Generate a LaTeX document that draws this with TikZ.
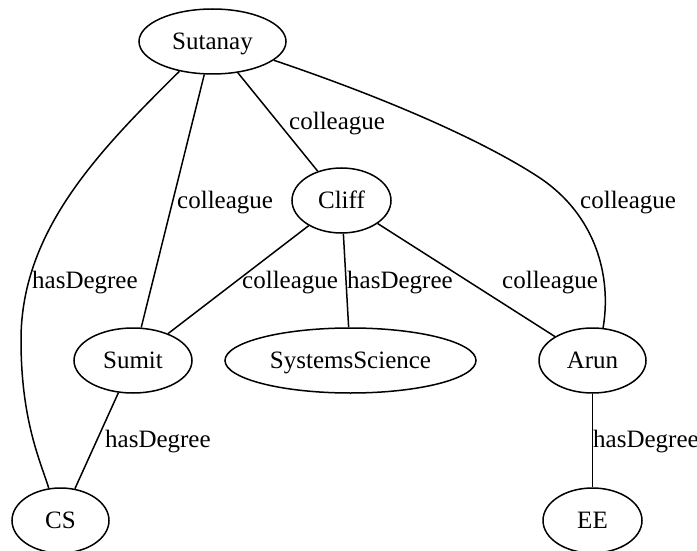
\documentclass[tikz,border=0pt]{standalone}
\usepackage{fontspec}
\setmainfont{Liberation Serif}
\usetikzlibrary{shapes.geometric}
\begin{document}
\begin{tikzpicture}[x=1pt,y=-1pt,
  every node/.style={font=\fontsize{25}{30}\selectfont},
  entity/.style={draw, ellipse, line width=1.5pt, inner sep=0pt,
    minimum height=65pt, text height=16.5pt, text depth=0pt},
  rel/.style={line width=1.5pt},
  lbl/.style={anchor=base west, inner sep=0pt}]
\useasboundingbox (0,0) rectangle (697,551);
\clip (0,0) rectangle (697,551);

% entities
\node[entity, minimum width=147pt] (sutanay) at (212.5,41.5) {Sutanay};
\node[entity, minimum width=99pt]  (cliff)   at (341.5,200.5) {Cliff};
\node[entity, minimum width=118pt] (sumit)   at (133,360.5) {Sumit};
\node[entity, minimum width=251pt] (syssci)  at (350.5,360.5) {SystemsScience};
\node[entity, minimum width=107pt] (arun)    at (592.5,360.5) {Arun};
\node[entity, minimum width=97pt]  (cs)      at (60.5,520.5) {CS};
\node[entity, minimum width=99pt]  (ee)      at (592.5,520.5) {EE};

% relations
\draw[rel] (sutanay) -- (cliff);
\draw[rel] (sutanay) -- (sumit);
\draw[rel] (sutanay.222) .. controls (100,150) and (21,230) .. (21,340)
                         .. controls (21,420) and (40,460) .. (cs.110);
\draw[rel] (sutanay.-17) .. controls (400,103) and (490,145) .. (540,178)
                         .. controls (595,215) and (612,275) .. (arun.72);
\draw[rel] (cliff) -- (sumit);
\draw[rel] (cliff) -- (syssci);
\draw[rel] (cliff) -- (arun);
\draw[rel] (sumit) -- (cs);
\draw[rel] (arun) -- (ee);

% relation labels
\node[lbl] (l1) at (289,129) {colleague};
\node[lbl] (l2) at (177,208) {colleague};
\node[lbl] (l3) at (580,208) {colleague};
\node[lbl] (l4) at (32,288) {hasDegree};
\node[lbl] (l5) at (242,288) {colleague};
\node[lbl] (l6) at (347,288) {hasDegree};
\node[lbl] (l7) at (502,288) {colleague};
\node[lbl] (l8) at (105,447) {hasDegree};
\node[lbl] (l9) at (593,447) {hasDegree};
\end{tikzpicture}
\end{document}
